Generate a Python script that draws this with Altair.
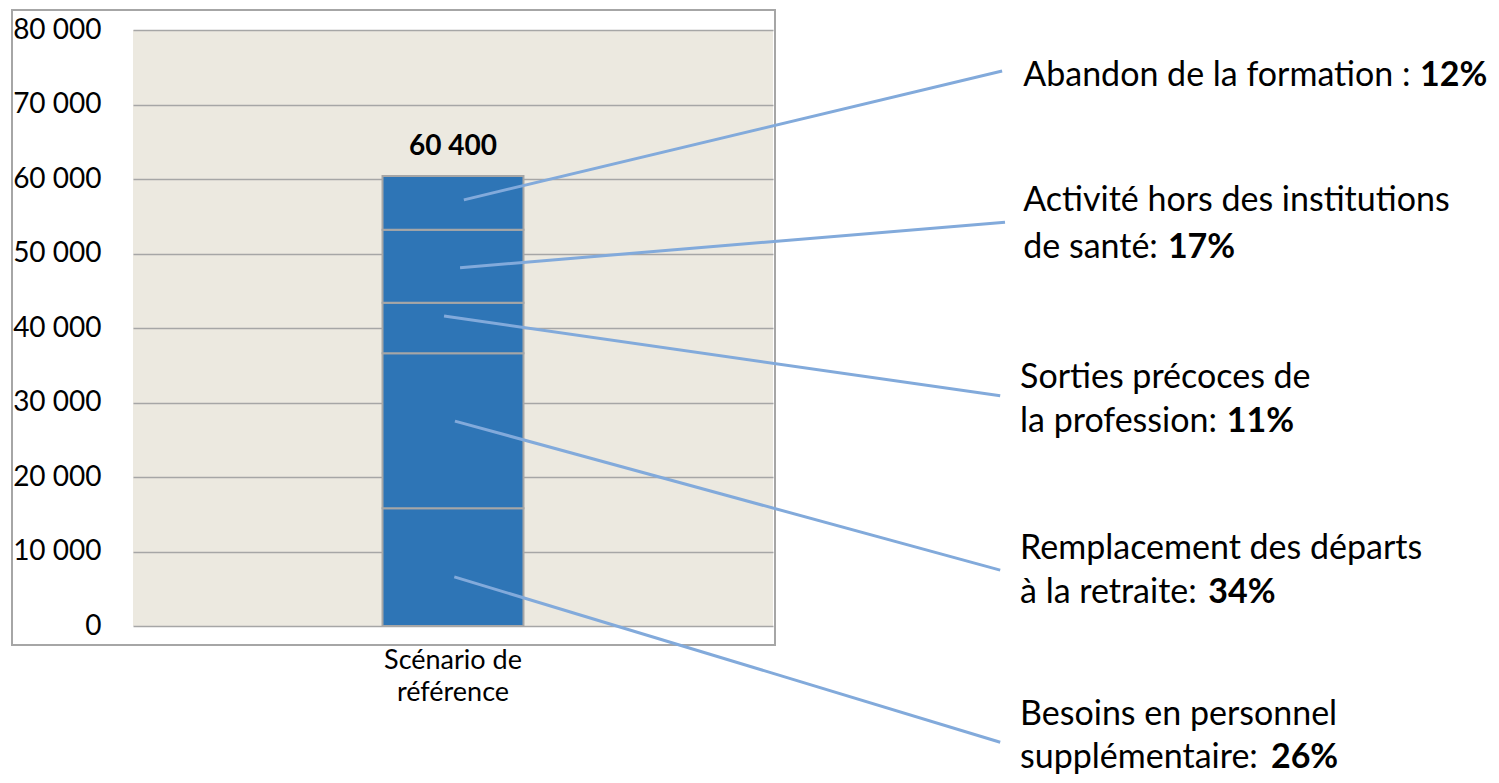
import altair as alt
import pandas as pd

# ---- data ----
scenario = "Scénario de référence"
segments = [
    "Besoins en personnel supplémentaire",
    "Remplacement des départs à la retraite",
    "Sorties précoces de la profession",
    "Activité hors des institutions de santé",
    "Abandon de la formation",
]
values = [15800, 20800, 6800, 9800, 7200]
shares = ["26%", "34%", "11%", "17%", "12%"]
total_label = "60 400"
y_ticks = [0, 10000, 20000, 30000, 40000, 50000, 60000, 70000, 80000]

# leader lines (x: fraction of plot width, y: data units)
line_x0 = [0.502, 0.503, 0.486, 0.511, 0.517]
line_y0 = [6600, 27500, 41600, 48100, 57200]
line_x1 = [1.355, 1.355, 1.355, 1.3625, 1.358]
line_y1 = [-15600, 7500, 30900, 54200, 74500]

# annotation text lines (regular part) and bold percentages
ann_text = [
    "Abandon de la formation : ",
    "Activité hors des institutions",
    "de santé: ",
    "Sorties précoces de",
    "la profession: ",
    "Remplacement des départs",
    "à la retraite: ",
    "Besoins en personnel",
    "supplémentaire: ",
]
ann_x = [1.391, 1.391, 1.391, 1.386, 1.386, 1.386, 1.386, 1.386, 1.386]
ann_y = [73800, 57000, 50700, 33300, 27400, 10300, 4400, -12000, -17700]

bold_text = ["12%", "17%", "11%", "34%", "26%"]
bold_x = [2.011, 1.617, 1.709, 1.680, 1.778]
bold_y = [73800, 50700, 27400, 4400, -17700]

# ---- tables ----
cum = []
s = 0
for v in values:
    cum.append(s)
    s += v
bars = pd.DataFrame({
    "scenario": [scenario] * len(values),
    "segment": segments,
    "y0": cum,
    "y1": [c + v for c, v in zip(cum, values)],
})
total_df = pd.DataFrame({"scenario": [scenario], "total": [sum(values)], "label": [total_label]})
lines = pd.DataFrame({"x0": line_x0, "y0": line_y0, "x1": line_x1, "y1": line_y1})
ann = pd.DataFrame({"x": ann_x, "y": ann_y, "t": ann_text})
bold = pd.DataFrame({"x": bold_x, "y": bold_y, "t": bold_text})

FONT = "Lato"
yscale = alt.Scale(domain=[0, 80000], nice=False, zero=False)
yaxis = alt.Axis(
    values=y_ticks,
    labelExpr="datum.value == 0 ? '0' : format(datum.value / 1000, 'd') + ' 000'",
    title=None, domain=False, ticks=False, labelPadding=32,
    labelFontSize=28, labelFont=FONT, labelColor="#000000",
    grid=True, gridColor="#A6A6A6", gridWidth=1.5,
)
xq = alt.Scale(domain=[0, 1], nice=False, zero=False)
xband = alt.Scale(paddingInner=0.435, paddingOuter=1)

frame = alt.Chart(pd.DataFrame({"a": [0]})).mark_rect(
    fillOpacity=0, stroke="#A6A6A6", strokeWidth=2
).encode(x=alt.value(-121), x2=alt.value(642), y=alt.value(-20), y2=alt.value(615))

bar = alt.Chart(bars).mark_bar(
    color="#2E75B6", stroke="#A6A6A6", strokeWidth=2
).encode(
    x=alt.X("scenario:N", scale=xband,
            axis=alt.Axis(title=None, domain=False, ticks=False, labelAngle=0,
                          labelFont=FONT, labelFontSize=27, labelColor="#000000",
                          labelPadding=21, labelLineHeight=32,
                          labelExpr="['Scénario de', 'référence']")),
    y=alt.Y("y0:Q", scale=yscale, axis=yaxis),
    y2="y1:Q",
)

total_text = alt.Chart(total_df).mark_text(
    font=FONT, fontSize=28, fontWeight="bold", baseline="alphabetic", dy=-21, color="#000000"
).encode(
    x=alt.X("scenario:N", scale=xband, axis=None),
    y=alt.Y("total:Q", scale=yscale, axis=yaxis),
    text="label:N",
)

rules = alt.Chart(lines).mark_rule(color="#82AADB", strokeWidth=3).encode(
    x=alt.X("x0:Q", scale=xq, axis=None),
    x2="x1:Q",
    y=alt.Y("y0:Q", scale=yscale, axis=yaxis),
    y2="y1:Q",
)

ann_layer = alt.Chart(ann).mark_text(
    font=FONT, fontSize=34, align="left", baseline="middle", color="#000000"
).encode(
    x=alt.X("x:Q", scale=xq, axis=None),
    y=alt.Y("y:Q", scale=yscale, axis=yaxis),
    text="t:N",
)

bold_layer = alt.Chart(bold).mark_text(
    font=FONT, fontSize=34, fontWeight="bold", align="left", baseline="middle", color="#000000"
).encode(
    x=alt.X("x:Q", scale=xq, axis=None),
    y=alt.Y("y:Q", scale=yscale, axis=yaxis),
    text="t:N",
)

chart = alt.layer(
    frame, bar, total_text, rules, ann_layer, bold_layer
).resolve_scale(x="independent").properties(
    width=640, height=596,
    autosize=alt.AutoSizeParams(type="none"),
    padding={"left": 125, "top": 22, "right": 718, "bottom": 149},
).configure_view(fill="#ECE9E0", strokeWidth=0)

chart.save("out.html", embed_options={"renderer": "svg", "actions": False})
